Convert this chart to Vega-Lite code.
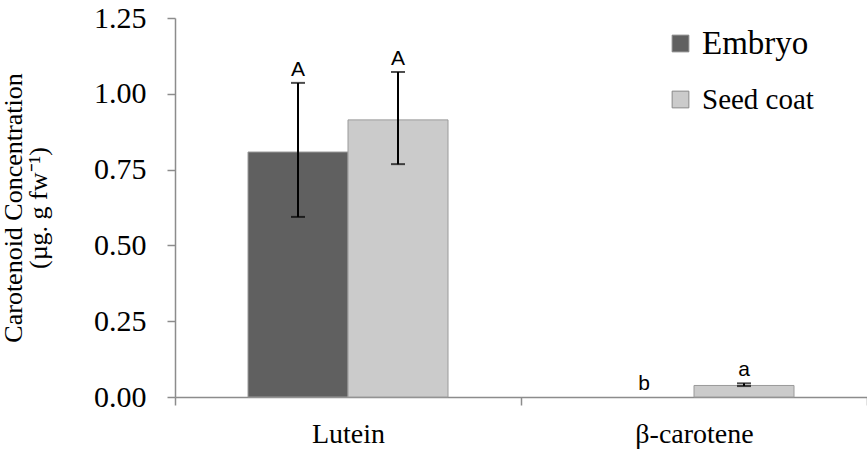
{
  "$schema": "https://vega.github.io/schema/vega-lite/v6.json",
  "width": 692,
  "height": 379,
  "autosize": {"type": "none"},
  "padding": {"left": 175, "top": 18, "right": 0, "bottom": 61},
  "background": "white",
  "config": {
    "view": {"stroke": null},
    "axis": {"grid": false, "domainColor": "#8c8c8c", "domainWidth": 1.5, "tickColor": "#8c8c8c", "tickWidth": 1.5, "labelColor": "black", "labelFont": "Liberation Serif", "titleFont": "Liberation Serif", "titleColor": "black", "titleFontWeight": "normal"},
    "axisX": {"labelFont": "Liberation Serif", "labelFontSize": 28, "labelPadding": 15, "tickSize": 8, "labelAngle": 0},
    "axisY": {"labelFontSize": 30, "labelPadding": 21, "tickSize": 8, "titleFontSize": 26, "titleLineHeight": 25, "titlePadding": 42},
    "legend": {"labelFont": "Liberation Serif", "labelFontSize": 29, "labelColor": "black"}
  },
  "data": {
    "values": [
      {"pigment": "Lutein", "tissue": "Embryo", "value": 0.808, "low": 0.594, "high": 1.036, "letter": "A"},
      {"pigment": "Lutein", "tissue": "Seed coat", "value": 0.914, "low": 0.768, "high": 1.072, "letter": "A"},
      {"pigment": "β-carotene", "tissue": "Embryo", "value": 0.0, "low": 0.0, "high": 0.0, "letter": "b"},
      {"pigment": "β-carotene", "tissue": "Seed coat", "value": 0.038, "low": 0.036, "high": 0.045, "letter": "a"}
    ]
  },
  "encoding": {
    "x": {
      "field": "pigment", "type": "nominal", "sort": ["Lutein", "β-carotene"],
      "scale": {"paddingInner": 0, "paddingOuter": 0},
      "axis": {"title": null, "tickBand": "extent", "labelFont": "Liberation Serif"}
    },
    "xOffset": {"field": "tissue", "type": "nominal", "sort": ["Embryo", "Seed coat"], "scale": {"paddingInner": 0, "paddingOuter": 0.73}}
  },
  "layer": [
    {
      "transform": [{"filter": "datum.value > 0"}],
      "mark": {"type": "bar", "stroke": "#9a9a9a", "strokeWidth": 1},
      "encoding": {
        "y": {
          "field": "value", "type": "quantitative",
          "scale": {"domain": [0, 1.25], "nice": false},
          "axis": {"values": [0, 0.25, 0.5, 0.75, 1.0, 1.25], "format": ".2f", "title": ["Carotenoid Concentration", "(µg. g fw⁻¹)"]}
        },
        "color": {
          "field": "tissue", "type": "nominal",
          "scale": {"domain": ["Embryo", "Seed coat"], "range": ["#606060", "#cbcbcb"]},
          "legend": {
            "title": null, "orient": "none", "legendX": 491, "legendY": 11,
            "symbolType": "square", "symbolSize": 280, "symbolStrokeColor": "#888", "symbolStrokeWidth": 1,
            "rowPadding": 24, "labelOffset": 7,
            "encode": {"labels": {"update": {"fontSize": {"signal": "datum.label == 'Embryo' ? 33 : 29"}}}}
          }
        }
      }
    },
    {
      "transform": [{"filter": "datum.high > 0"}],
      "mark": {"type": "rule", "color": "black", "strokeWidth": 2},
      "encoding": {"y": {"field": "low", "type": "quantitative"}, "y2": {"field": "high"}}
    },
    {
      "transform": [{"filter": "datum.high > 0"}],
      "mark": {"type": "tick", "color": "black", "thickness": 2, "size": 14, "orient": "horizontal"},
      "encoding": {"y": {"field": "high", "type": "quantitative"}}
    },
    {
      "transform": [{"filter": "datum.high > 0"}],
      "mark": {"type": "tick", "color": "black", "thickness": 2, "size": 14, "orient": "horizontal"},
      "encoding": {"y": {"field": "low", "type": "quantitative"}}
    },
    {
      "mark": {"type": "text", "font": "Liberation Sans", "fontSize": 21, "color": "black", "baseline": "bottom", "dy": -3},
      "encoding": {"y": {"field": "high", "type": "quantitative"}, "text": {"field": "letter"}}
    }
  ]
}
